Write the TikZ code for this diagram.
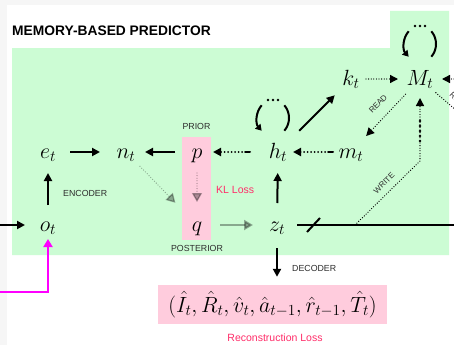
\RequirePackage{fix-cm}
\documentclass[tikz,border=0pt]{standalone}
\usepackage{fontspec}
\setmainfont{Liberation Sans}
\usetikzlibrary{arrows.meta,calc}
\definecolor{greenbg}{RGB}{204,252,212}
\definecolor{pinkbg}{RGB}{255,204,221}
\definecolor{losscol}{RGB}{255,45,105}
\definecolor{labgray}{RGB}{45,45,45}
\definecolor{bggray}{RGB}{246,246,246}
\definecolor{magline}{RGB}{255,0,255}
\tikzset{
  mathn/.style={inner sep=0pt, text height=14pt, text depth=2pt, font=\fontsize{22}{26}\selectfont},
  lbl/.style={font=\fontsize{8.8}{10}\selectfont, text=labgray, inner sep=0pt},
  smalllbl/.style={font=\fontsize{8}{9}\selectfont, text=labgray, inner sep=0pt},
  losslbl/.style={font=\fontsize{10.5}{12}\selectfont, text=losscol, inner sep=0pt},
  arr/.style={line width=2pt, -{Triangle[length=8pt,width=8pt]}},
  bigdot/.style={line width=2pt, line cap=round, -{Triangle[length=8pt,width=8pt]},
    dash pattern=on 5pt off 3pt on 0pt off 3.5pt on 0pt off 3.5pt on 0pt off 3.5pt on 0pt off 3.5pt on 0pt off 3.5pt on 0pt off 3.5pt on 0pt off 3.5pt on 0pt off 40pt},
  finedot/.style={line width=1.3pt, line cap=round, dash pattern=on 0pt off 2.6pt},
  finearr/.style={finedot, -{Triangle[length=8pt,width=8pt]}},
  grayarr/.style={line width=2pt, draw=black, draw opacity=0.33, fill opacity=0.33, -{Triangle[length=9pt,width=10pt]}},
  graydot/.style={line width=1.3pt, line cap=round, dash pattern=on 0pt off 2.6pt, draw=black, draw opacity=0.33, fill opacity=0.33, -{Triangle[length=9pt,width=10pt]}},
  pics/selfloop/.style={code={
    \draw[line width=2pt] (-45:16 and 18) arc[start angle=-45,end angle=45,x radius=16,y radius=18];
    \draw[line width=2pt,-{Triangle[length=6pt,width=7pt]}] (225:16 and 18) arc[start angle=225,end angle=135,x radius=16,y radius=18];
    \fill (-5,-18) circle[radius=1.4pt] (0,-18) circle[radius=1.4pt] (5,-18) circle[radius=1.4pt];
  }}
}
\begin{document}
\begin{tikzpicture}[x=1pt,y=-1pt]
\useasboundingbox (0,0) rectangle (454,345);
\clip (0,0) rectangle (454,345);
\fill[bggray] (0,0) rectangle (454,345);
\fill[white] (7,5) rectangle (454,345);
\fill[greenbg] (12,48) -- (390,48) -- (390,11) -- (449,11) -- (449,255) -- (12,255) -- cycle;

\node[font=\bfseries\fontsize{13.8}{16}\selectfont, anchor=west, inner sep=0pt] (title) at (12,31) {MEMORY-BASED PREDICTOR};

\node[fill=pinkbg, minimum width=29pt, minimum height=103pt, inner sep=0pt] (pq) at (196.5,188.5) {};
\node[mathn] (e) at (48,152) {$e_t$};
\node[mathn] (n) at (126,152) {$n_t$};
\node[mathn] (p) at (197,152) {$p$};
\node[mathn] (q) at (197,225) {$q$};
\node[mathn] (o) at (48,225) {$o_t$};
\node[mathn] (z) at (277,225) {$z_t$};
\node[mathn] (h) at (278,152) {$h_t$};
\node[mathn] (m) at (351,152) {$m_t$};
\node[mathn] (k) at (351,79) {$k_t$};
\node[mathn] (M) at (420,79) {$M_t$};

\node[lbl] (prior) at (196.5,126) {PRIOR};
\node[lbl] (post) at (197,248) {POSTERIOR};
\node[lbl, anchor=west] (enc) at (63,193) {ENCODER};
\node[lbl, anchor=west] (dec) at (292,268) {DECODER};
\node[losslbl, anchor=west] (kl) at (216,190) {KL Loss};

\node[fill=pinkbg, minimum width=229pt, minimum height=39pt, inner sep=0pt,
  font=\fontsize{22}{26}\selectfont] (rec) at (272.5,304.5)
  {$(\hat{I}_t,\hat{R}_t,\hat{v}_t,\hat{a}_{t-1},\hat{r}_{t-1},\hat{T}_t)$};
\node[losslbl] (rl) at (275,338) {Reconstruction Loss};

% solid arrows
\draw[arr, shorten <=20pt, shorten >=21pt] (o.center) -- (e.center);
\draw[arr, shorten <=22pt, shorten >=26pt] (e.center) -- (n.center);
\draw[arr, shorten <=22pt, shorten >=19pt] (p.center) -- (n.center);
\draw[arr, shorten <=22pt, shorten >=21pt] (z.center) -- (h.center);
\draw[arr, shorten <=30pt, shorten >=23pt] (h.center) -- (k.center);
\draw[arr, shorten <=23pt, shorten >=8pt] (z.center) -- (z.center |- rec.north);

% dotted-dashed arrows
\draw[bigdot, shorten <=28pt, shorten >=16pt] (h.center) -- (p.center);
\draw[bigdot, shorten <=18pt, shorten >=15pt] (m.center) -- (h.center);

% gray arrows
\draw[grayarr, shorten <=23pt, shorten >=24pt] (q.center) -- (z.center);
\draw[graydot, shorten <=21pt, shorten >=23pt] (p.center) -- (q.center);
\draw[graydot, shorten <=20pt, shorten >=31pt] (n.center) -- (q.center);

% left inputs
\coordinate (ol) at (0,225);
\draw[arr, shorten >=23pt] (ol) -- (o.center);
\coordinate (mg) at (0,292);
\draw[line width=2.2pt, draw=magline, -{Triangle[length=8pt,width=9pt]}, shorten >=14pt] (mg) -| (o.center);

% z line with slash
\coordinate (zr) at (454,225);
\draw[line width=2pt, shorten <=20pt] (z.center) -- (zr);
\draw[line width=2pt] ($(z.center)+(30,7)$) -- ($(z.center)+(43,-7)$);

% memory
\draw[finearr, shorten <=15pt, shorten >=22pt] (k.center) -- (M.center);
\coordinate (mr) at (454,79);
\draw[finearr, shorten >=22pt] (mr) -- (M.center);
\draw[finearr, shorten <=21pt, shorten >=22pt] (M.center) -- (m.center);
\node[smalllbl, rotate=46] (read) at (378,104) {READ};
\coordinate (rr) at (480,131);
\draw[finedot, shorten <=21pt] (M.center) -- (rr);
\node[smalllbl, rotate=-45] (read2) at (459,101) {READ};

\coordinate (w1) at ($(z.center)+(78,0)$);
\coordinate (w2) at ($(M.center)+(0,82)$);
\draw[finearr, shorten >=19pt] (w1) -- (w2) -- (M.center);
\draw[line width=2.6pt, line cap=round, dash pattern=on 0pt off 5pt] ($(M.center)+(0,42)$) -- ($(M.center)+(0,63)$);
\node[smalllbl, rotate=45] (write) at (384,183) {WRITE};

% self loops
\pic at ($(M.center)+(0,-35)$) {selfloop};
\pic at ($(h.center)+(-5,-34)$) {selfloop};
\end{tikzpicture}
\end{document}
